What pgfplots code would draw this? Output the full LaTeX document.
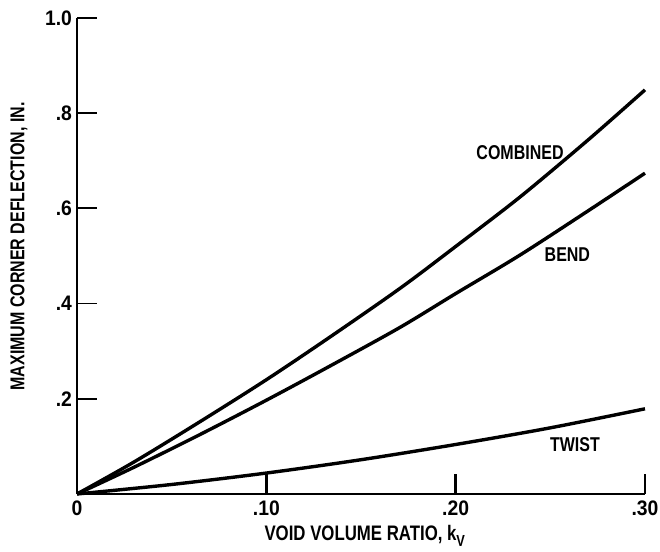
\documentclass[border=0pt]{standalone}
\usepackage{fontspec}
\setmainfont{Liberation Sans}[FakeStretch=0.8]
\newfontfamily\tickfont{Liberation Sans}[FakeStretch=0.92]
\usepackage{pgfplots}
\pgfplotsset{compat=1.18}
\begin{document}
\begin{tikzpicture}
\useasboundingbox (-38.5pt,-29pt) rectangle (291.5pt,247pt);
\begin{axis}[
  at={(0,0)}, anchor=south west,
  scale only axis, width=284pt, height=238pt,
  xmin=0, xmax=0.30, ymin=0, ymax=1.0,
  axis lines*=left,
  axis line style={line width=1pt},
  xtick={0,0.1,0.2,0.3}, xticklabels={0,.10,.20,.30},
  ytick={0.2,0.4,0.6,0.8,1.0}, yticklabels={.2,.4,.6,.8,1.0},
  tick align=inside, major tick length=10pt,
  xtick style={line width=1.2pt, draw=black},
  ytick style={line width=0.9pt, draw=black},
  /pgf/number format/assume math mode=true,
  ticklabel style={font=\tickfont\bfseries\fontsize{10.5}{12}\selectfont},
  yticklabel style={xshift=1pt},
  clip=false,
]
\addplot[line width=1.7pt, black, smooth, no marks] coordinates {(0,0) (0.03,0.067) (0.065,0.152) (0.10,0.240) (0.1337,0.33) (0.1706,0.432) (0.20,0.52) (0.234,0.624) (0.27,0.744) (0.30,0.849)};
\addplot[line width=1.7pt, black, smooth, no marks] coordinates {(0,0) (0.03,0.056) (0.065,0.125) (0.10,0.197) (0.1337,0.269) (0.1706,0.350) (0.20,0.421) (0.234,0.502) (0.27,0.595) (0.30,0.674)};
\addplot[line width=1.7pt, black, smooth, no marks] coordinates {(0,0) (0.05,0.020) (0.10,0.044) (0.15,0.072) (0.20,0.104) (0.25,0.139) (0.30,0.179)};
\draw[line width=1.2pt, black] (axis cs:0.1,0) -- (axis cs:0.1,0.04);
\draw[line width=1.2pt, black] (axis cs:0.2,0) -- (axis cs:0.2,0.04);
\draw[line width=1.2pt, black] (axis cs:0.3,0) -- (axis cs:0.3,0.04);
\node[font=\bfseries\fontsize{10}{12}\selectfont] at (axis cs:0.234,0.718) {COMBINED};
\node[font=\bfseries\fontsize{10}{12}\selectfont] at (axis cs:0.259,0.502) {BEND};
\node[font=\bfseries\fontsize{10}{12}\selectfont] at (axis cs:0.263,0.103) {TWIST};
\node[font=\bfseries\fontsize{10.5}{12}\selectfont] at (axis cs:0.152,-0.088) {VOID VOLUME RATIO, k\raisebox{-0.5ex}{\fontsize{8}{9}\selectfont V}};
\node[font=\bfseries\fontsize{10}{12}\selectfont, rotate=90] at (axis cs:-0.0307,0.52) {MAXIMUM CORNER DEFLECTION, IN.};
\end{axis}
\end{tikzpicture}
\end{document}
